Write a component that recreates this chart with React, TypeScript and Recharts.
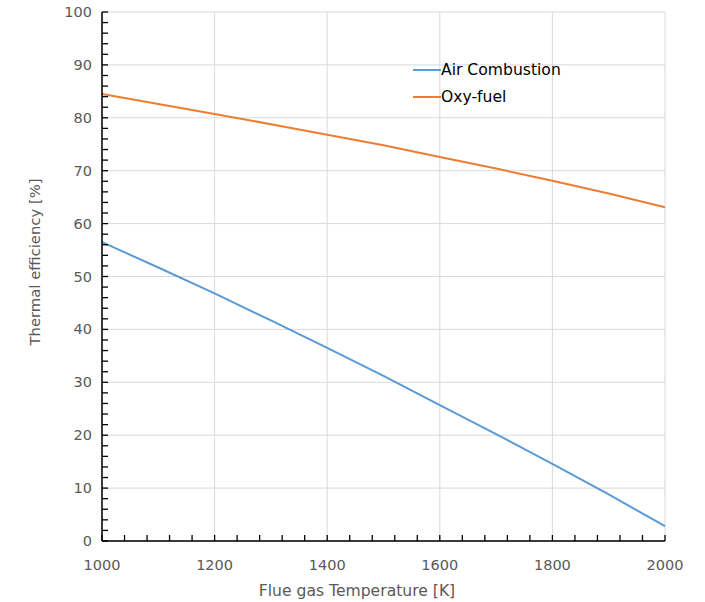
import React from "react";
import { LineChart, Line, XAxis, YAxis, CartesianGrid } from "recharts";

const temperatures = [1000, 1100, 1200, 1300, 1400, 1500, 1600, 1700, 1800, 1900, 2000];
const airCombustion = [56.5, 51.7, 46.8, 41.7, 36.5, 31.2, 25.7, 20.2, 14.6, 8.8, 2.8];
const oxyFuel = [84.5, 82.6, 80.7, 78.8, 76.8, 74.8, 72.6, 70.4, 68.1, 65.7, 63.1];
const xMajorTicks = [1000, 1200, 1400, 1600, 1800, 2000];
const xAllTicks = [1000, 1040, 1080, 1120, 1160, 1200, 1240, 1280, 1320, 1360, 1400, 1440, 1480, 1520, 1560, 1600, 1640, 1680, 1720, 1760, 1800, 1840, 1880, 1920, 1960, 2000];
const yMajorTicks = [0, 10, 20, 30, 40, 50, 60, 70, 80, 90, 100];
const yAllTicks = [0, 2, 4, 6, 8, 10, 12, 14, 16, 18, 20, 22, 24, 26, 28, 30, 32, 34, 36, 38, 40, 42, 44, 46, 48, 50, 52, 54, 56, 58, 60, 62, 64, 66, 68, 70, 72, 74, 76, 78, 80, 82, 84, 86, 88, 90, 92, 94, 96, 98, 100];
const xDomain = [1000, 2000];
const yDomain = [0, 100];

const data = temperatures.map((t, i) => ({ t, air: airCombustion[i], oxy: oxyFuel[i] }));

const FONT = "'DejaVu Sans', Verdana, sans-serif";
const TEXT = "#595959";

const XTick = (props: any) => {
  const { x, y, payload } = props;
  const major = xMajorTicks.includes(payload.value);
  return (
    <g>
      <line x1={x} x2={x} y1={y} y2={y - 6} stroke="#000" strokeWidth={1.3} />
      {major && (
        <text x={x} y={y + 29} textAnchor="middle" fill={TEXT} fontSize={14.5} fontFamily={FONT}>{payload.value}</text>
      )}
    </g>
  );
};
const YTick = (props: any) => {
  const { x, y, payload } = props;
  const major = yMajorTicks.includes(payload.value);
  return (
    <g>
      <line x1={x} x2={x + 6} y1={y} y2={y} stroke="#000" strokeWidth={1.3} />
      {major && (
        <text x={x - 10} y={y + 5} textAnchor="end" fill={TEXT} fontSize={14.5} fontFamily={FONT}>{payload.value}</text>
      )}
    </g>
  );
};

const legendItems = [
  { name: "Air Combustion", color: "#5B9BD5" },
  { name: "Oxy-fuel", color: "#ED7D31" },
];

const applyScale = (s: any, v: number): number | undefined => {
  if (!s) return undefined;
  if (typeof s === "function") return s(v);
  if (typeof s.map === "function") return s.map(v);
  if (typeof s.scale === "function") return s.scale(v);
  return undefined;
};

const vGen = (args: any) => {
  const s = args?.xAxis?.scale;
  const off = args?.offset;
  return xMajorTicks.map((v) => {
    const r = applyScale(s, v);
    if (typeof r === "number" && !isNaN(r)) return r;
    return off.left + ((v - xDomain[0]) / (xDomain[1] - xDomain[0])) * off.width;
  });
};
const hGen = (args: any) => {
  const s = args?.yAxis?.scale;
  const off = args?.offset;
  return yMajorTicks.map((v) => {
    const r = applyScale(s, v);
    if (typeof r === "number" && !isNaN(r)) return r;
    return off.top + (1 - (v - yDomain[0]) / (yDomain[1] - yDomain[0])) * off.height;
  });
};

export default function App() {
  return (
    <div style={{ position: "absolute", left: 0, top: 0, width: 705, height: 602, background: "#fff" }}>
      <LineChart width={705} height={602} data={data} margin={{ top: 12, right: 40, bottom: 31, left: 42 }}>
        <CartesianGrid stroke="#D9D9D9" verticalCoordinatesGenerator={vGen} horizontalCoordinatesGenerator={hGen} />
        <XAxis dataKey="t" type="number" domain={xDomain} ticks={xAllTicks} tick={<XTick />} tickSize={0} tickMargin={0} axisLine={{ stroke: "#000", strokeWidth: 1.5 }} height={30} interval={0} />
        <YAxis type="number" domain={yDomain} ticks={yAllTicks} tick={<YTick />} tickSize={0} tickMargin={0} axisLine={{ stroke: "#000", strokeWidth: 1.5 }} width={60} interval={0} />
        <Line dataKey="air" stroke="#5B9BD5" strokeWidth={2} dot={false} isAnimationActive={false} />
        <Line dataKey="oxy" stroke="#ED7D31" strokeWidth={2} dot={false} isAnimationActive={false} />
        <text x={357} y={596} textAnchor="middle" fill={TEXT} fontSize={15.6} fontFamily={FONT}>Flue gas Temperature [K]</text>
        <text x={40} y={262} textAnchor="middle" fill={TEXT} fontSize={14.8} fontFamily={FONT} transform="rotate(-90 40 262)">Thermal efficiency [%]</text>
      </LineChart>
      <div style={{ position: "absolute", left: 413, top: 56, fontFamily: FONT, fontSize: 15.6, color: "#000" }}>
        {legendItems.map((e) => (
          <div key={e.name} style={{ display: "flex", alignItems: "center", height: 27.5 }}>
            <div style={{ width: 28, height: 2, background: e.color }} />
            <span>{e.name}</span>
          </div>
        ))}
      </div>
    </div>
  );
}
